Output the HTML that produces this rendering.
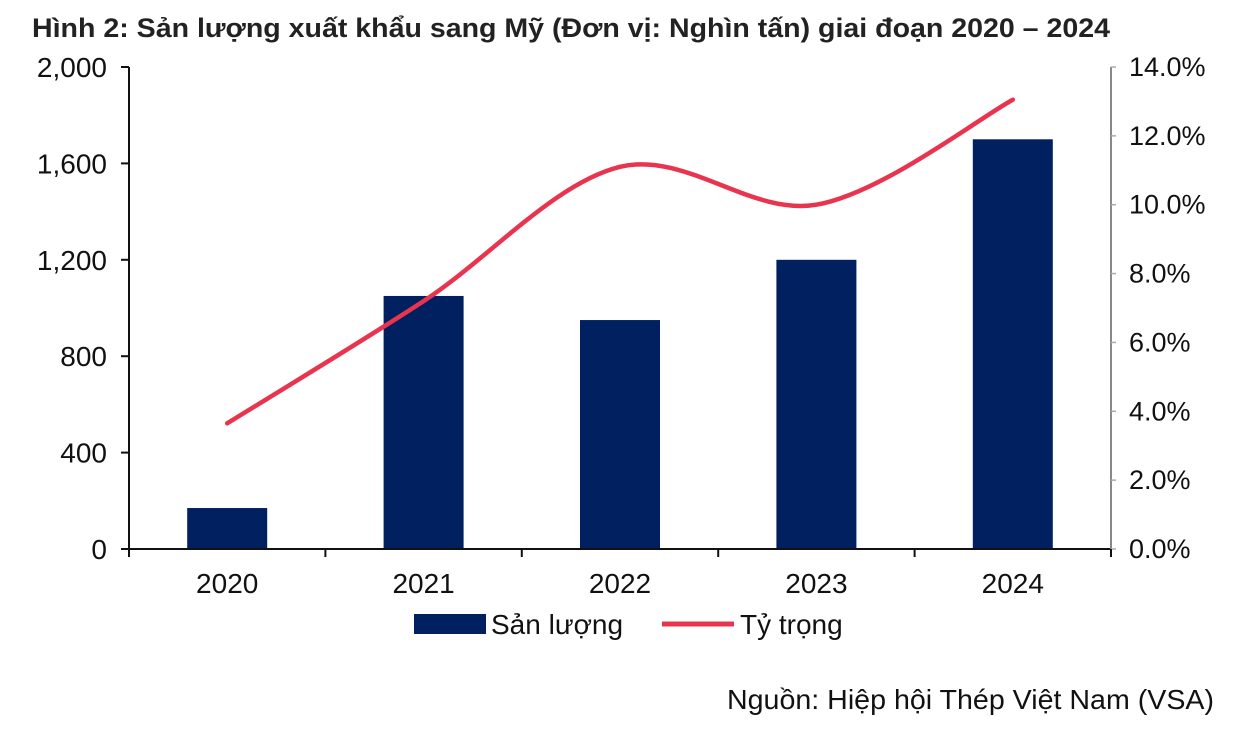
<!DOCTYPE html>
<html><head><meta charset="utf-8"><style>
body{margin:0;background:#fff;width:1234px;height:726px;overflow:hidden;font-family:"Liberation Sans",Arial,sans-serif}
</style></head><body>
<svg id="chart" width="1234" height="726" xmlns="http://www.w3.org/2000/svg" font-family="Liberation Sans, Arial, sans-serif">
<text x="32" y="37" font-size="27" font-weight="bold" fill="#222" textLength="1078" lengthAdjust="spacingAndGlyphs">Hình 2: Sản lượng xuất khẩu sang Mỹ (Đơn vị:  Nghìn tấn) giai đoạn 2020 – 2024</text>
<g id="plot"></g>
<g>
<rect x="414" y="614" width="72" height="20" fill="#002060"/>
<text x="491" y="634" font-size="28" fill="#111">Sản lượng</text>
<line x1="662" y1="624" x2="734" y2="624" stroke="#e8344e" stroke-width="5"/>
<text x="740" y="634" font-size="28" fill="#111">Tỷ trọng</text>
</g>
<text x="1214" y="709" text-anchor="end" font-size="28" fill="#111" textLength="487" lengthAdjust="spacingAndGlyphs">Nguồn: Hiệp hội Thép Việt Nam (VSA)</text>
</svg>
<script>
const categories=["2020","2021","2022","2023","2024"];
const volumes=[170,1050,950,1200,1700];
const shares=[3.65,7.2,11.1,10.0,13.05];
const leftTicks=[0,400,800,1200,1600,2000];
const rightTicks=[0,2,4,6,8,10,12,14];
const NS="http://www.w3.org/2000/svg";
const L=129,R=1111,T=67,B=549;
const yL=v=>B-(v/2000)*(B-T);
const yR=v=>B-(v/14)*(B-T);
const bw=(R-L)/categories.length;
const xC=i=>L+bw*(i+0.5);
const g=document.getElementById('plot');
function mk(t,a){const e=document.createElementNS(NS,t);for(const k in a)e.setAttribute(k,a[k]);g.appendChild(e);return e;}
volumes.forEach((v,i)=>{const r=mk('rect',{x:xC(i)-40,y:yL(v),width:80,height:B-yL(v),fill:'#002060'});

});
const pts=shares.map((s,i)=>[xC(i),yR(s)]);
let d='M'+pts[0][0]+','+pts[0][1];
for(let i=0;i<pts.length-1;i++){const p0=pts[i-1]||pts[i],p1=pts[i],p2=pts[i+1],p3=pts[i+2]||p2;const k=6;
d+=` C${p1[0]+(p2[0]-p0[0])/k},${p1[1]+(p2[1]-p0[1])/k} ${p2[0]-(p3[0]-p1[0])/k},${p2[1]-(p3[1]-p1[1])/k} ${p2[0]},${p2[1]}`;}
const ln=mk('path',{d:d,fill:'none',stroke:'#e8344e','stroke-width':4.5,'stroke-linecap':'round'});


const ax=mk('path',{d:`M${L},${T}V${B}H${R}`,fill:'none',stroke:'#111','stroke-width':2});


const rax=mk('line',{x1:R,x2:R,y1:T,y2:B,stroke:'#888','stroke-width':2});


leftTicks.forEach(v=>{mk('line',{x1:L-8,x2:L,y1:yL(v),y2:yL(v),stroke:'#111','stroke-width':2});
const t=mk('text',{x:L-22,y:yL(v)+10,'text-anchor':'end','font-size':28,fill:'#111'});t.textContent=v.toLocaleString('en-US');

});
rightTicks.forEach(v=>{mk('line',{x1:R,x2:R+5,y1:yR(v),y2:yR(v),stroke:'#aaa','stroke-width':1.5});
const t=mk('text',{x:R+18,y:yR(v)+9,'font-size':27,fill:'#111'});t.textContent=v.toFixed(1)+'%';

});
for(let i=0;i<=categories.length;i++)mk('line',{x1:L+bw*i,x2:L+bw*i,y1:B,y2:B+8,stroke:'#111','stroke-width':2});
categories.forEach((c,i)=>{const t=mk('text',{x:xC(i),y:593,'text-anchor':'middle','font-size':28,fill:'#111'});t.textContent=c;

});
</script>
</body></html>
